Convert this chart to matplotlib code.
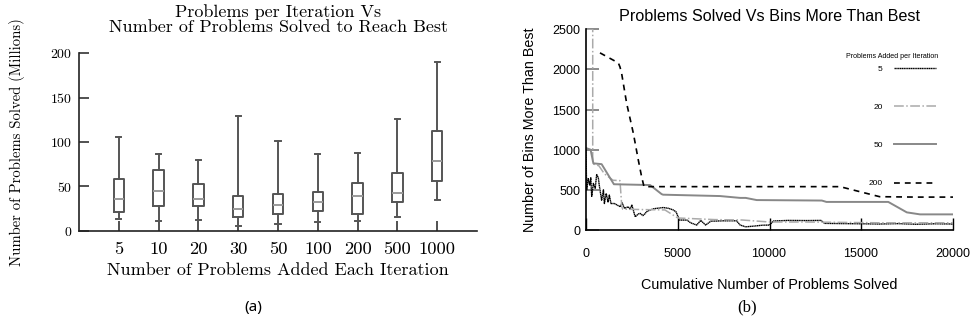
import matplotlib.pyplot as plt
import numpy as np

# ---- panel (a): box plot data (millions of problems solved) ----
batch_labels = ["5", "10", "20", "30", "50", "100", "200", "500", "1000"]
whisker_low = [13, 10.5, 12, 5.6, 7.9, 10.2, 11.3, 15.8, 34.2]
q1 = [20.7, 27.4, 27.4, 15.8, 19.2, 22.6, 18.8, 32, 55.6]
median = [36, 45, 36, 24.8, 29.3, 32, 38.7, 42.9, 78.2]
q3 = [58.6, 68.8, 53, 39.5, 41.7, 44, 54, 65.4, 112.8]
whisker_high = [105.6, 86.5, 79.3, 129.7, 100.8, 86.8, 88, 126, 190.6]

# ---- panel (b): bins more than best vs cumulative problems ----
s5_x = [0, 20, 35, 120, 200, 260, 310, 400, 500, 580, 670, 720, 850, 950, 1000,
        1100, 1200, 1270, 1360, 1550, 1700, 1880, 1960, 2100, 2300, 2400, 2500,
        2600, 2680, 2850, 2950, 3100, 3200, 3300, 3490, 3700, 3850, 4210, 4500,
        4750, 4900, 5020, 5100, 5500, 5700, 6030, 6250, 6520, 6800, 7500, 8200,
        8400, 8700, 9200, 9600, 10000, 10210, 11000, 12000, 12800, 13000, 14000,
        15000, 16000, 17000, 18000, 19000, 20000]
s5_y = [1000, 700, 500, 640, 560, 650, 420, 580, 520, 690, 650, 560, 370, 500, 330,
        455, 350, 435, 330, 330, 310, 290, 340, 270, 290, 260, 310, 228, 165, 200,
        207, 180, 200, 228, 250, 265, 270, 280, 270, 250, 228, 165, 124, 124, 90,
        62, 120, 62, 110, 115, 115, 62, 40, 50, 60, 62, 112, 120, 118, 120, 83,
        80, 78, 75, 80, 72, 78, 75]

s20_x = [0, 365, 365, 420, 700, 1000, 1470, 1850, 1950, 2000, 3000, 4300, 5000,
         7000, 8500, 10000, 12000, 14000, 16000, 18000, 20000]
s20_y = [2500, 2500, 830, 820, 800, 700, 620, 615, 290, 260, 255, 250, 150,
         130, 125, 100, 100, 95, 90, 90, 90]

s50_x = [0, 250, 400, 850, 1270, 1520, 3490, 4120, 4200, 7300, 8400, 8700, 9300,
         12850, 13100, 16470, 17480, 18200, 20000]
s50_y = [1020, 1000, 830, 820, 663, 570, 560, 447, 440, 423, 400, 400, 373,
         367, 350, 350, 220, 195, 195]

s200_x = [760, 1760, 1850, 1940, 2215, 2580, 2850, 3030, 3160, 6000, 10000,
          13840, 16000, 18000, 20000]
s200_y = [2205, 2080, 2030, 1950, 1576, 1203, 870, 663, 540, 540, 540, 540,
          415, 410, 410]

fig = plt.figure(figsize=(9.72, 3.24), dpi=100)

# ---------------- (a) ----------------
serif = ["cmr10", "DejaVu Serif"]
plt.rcParams["axes.formatter.use_mathtext"] = True
ax1 = fig.add_axes([0.0813, 0.288, 0.4095, 0.5475])

stats = []
for i in range(len(batch_labels)):
    stats.append({"whislo": whisker_low[i], "q1": q1[i], "med": median[i],
                  "q3": q3[i], "whishi": whisker_high[i], "fliers": []})
positions = np.arange(1, len(batch_labels) + 1)
box_col = "#555555"
ax1.bxp(stats, positions=positions, widths=0.26, showfliers=False,
        boxprops=dict(color=box_col, linewidth=1.4),
        whiskerprops=dict(color=box_col, linewidth=1.4),
        capprops=dict(color=box_col, linewidth=1.4),
        medianprops=dict(color="#9a9a9a", linewidth=1.4))
ax1.set_xlim(0, 10)
ax1.set_ylim(0, 200)
ax1.set_yticks([0, 50, 100, 150, 200])
ax1.set_xticks(positions)
ax1.set_xticklabels(batch_labels, family=serif, fontsize=13.3)
for lab in ax1.get_yticklabels():
    lab.set_family(serif)
    lab.set_fontsize(10)
ax1.tick_params(axis="both", direction="in", length=7, width=1.2, color="#333333")
ax1.tick_params(axis="x", pad=8)
ax1.tick_params(axis="y", pad=5)
for side in ["top", "right"]:
    ax1.spines[side].set_visible(False)
for side in ["left", "bottom"]:
    ax1.spines[side].set_linewidth(1.2)
    ax1.spines[side].set_color("#222222")
ax1.set_xlabel("Number of Problems Added Each Iteration", family=serif, fontsize=13, labelpad=4)
ax1.set_ylabel("Number of Problems Solved (Millions)", family=serif, fontsize=10.6, labelpad=18)
ax1.set_title("Problems per Iteration Vs\nNumber of Problems Solved to Reach Best",
              family=serif, fontsize=13, linespacing=0.98, pad=15)

# ---------------- (b) ----------------
sans = ["Liberation Sans", "DejaVu Sans"]
ax2 = fig.add_axes([0.6029, 0.290, 0.3776, 0.620])
ax2.plot(s5_x, s5_y, color="black", linewidth=1.0, linestyle=(0, (1, 0.3)), label="5")
ax2.plot(s20_x, s20_y, color="#aaaaaa", linewidth=1.1, linestyle="-.", label="20")
ax2.plot(s50_x, s50_y, color="#888888", linewidth=1.4, linestyle="-", label="50")
ax2.plot(s200_x, s200_y, color="black", linewidth=1.2, linestyle=(0, (3.5, 3)), label="200")
ax2.set_xlim(0, 20000)
ax2.set_ylim(0, 2500)
ax2.set_xticks([0, 5000, 10000, 15000, 20000])
ax2.set_yticks([0, 500, 1000, 1500, 2000, 2500])
for lab in ax2.get_xticklabels() + ax2.get_yticklabels():
    lab.set_family(sans)
    lab.set_fontsize(9)
ax2.tick_params(axis="x", direction="in", length=9, width=1.0, color="black", pad=12)
ax2.tick_params(axis="y", direction="in", length=9, width=1.2, color="#777777", pad=3)
for side in ["top", "right"]:
    ax2.spines[side].set_visible(False)
for side in ["left", "bottom"]:
    ax2.spines[side].set_linewidth(1.2)
    ax2.spines[side].set_color("black")
ax2.set_xlabel("Cumulative Number of Problems Solved", family=sans, fontsize=10.4, labelpad=13)
ax2.set_ylabel("Number of Bins More Than Best", family=sans, fontsize=10.3, labelpad=11)
ax2.set_title("Problems Solved Vs Bins More Than Best", family=sans, fontsize=11.6, pad=6)
ax2.text(0.834, 0.866, "Problems Added per Iteration", transform=ax2.transAxes,
         family=sans, fontsize=5.1, ha="center", va="center")
leg = ax2.legend(loc="upper right", bbox_to_anchor=(0.954, 0.822), frameon=False,
                 markerfirst=False, prop=dict(family=sans, size=6),
                 handlelength=5.0, labelspacing=3.65, handletextpad=1.4,
                 borderpad=0, borderaxespad=0)

# captions
fig.text(253 / 972, 1 - 307 / 324, "(a)", family=["Noto Sans", "DejaVu Sans"],
         fontsize=11, ha="center", va="center")
fig.text(747 / 972, 1 - 307 / 324, "(b)", family=["Liberation Serif", "DejaVu Serif"],
         fontsize=12, ha="center", va="center")

fig.savefig("out.png", dpi=100)
